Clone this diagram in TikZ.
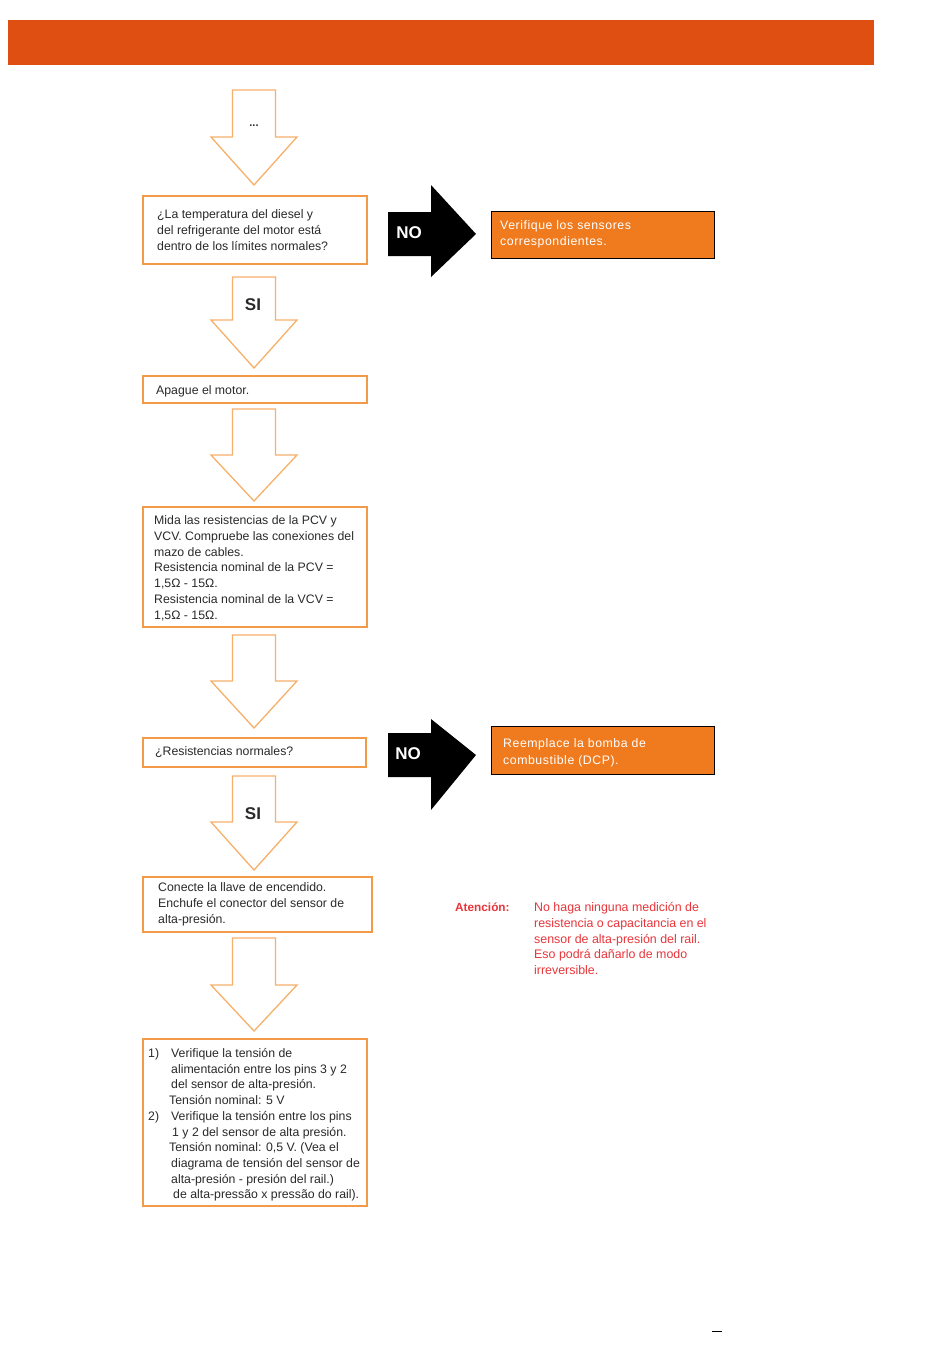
\documentclass[tikz,border=0pt]{standalone}
\usepackage{fontspec}
\setmainfont{Liberation Sans}
\newfontfamily\widefont[LetterSpace=4.5]{Liberation Sans}
\definecolor{hdr}{HTML}{DF4F12}
\definecolor{arrline}{HTML}{F6B06A}
\definecolor{boxline}{HTML}{F29A48}
\definecolor{obox}{HTML}{F07A1E}
\definecolor{txt}{HTML}{2A2A2A}
\definecolor{warn}{HTML}{E8353A}
\newcommand\mydarrow[4]{%
  \draw[arrowshape] ({#1-21.5},#2) -- ({#1+21.5},#2) -- ({#1+21.5},#3) -- ({#1+43},#3)
    -- (#1,#4) -- ({#1-43},#3) -- ({#1-21.5},#3) -- cycle;}
\newcommand\myrarrow[3]{%
  \fill[black] (388,{#1-22}) -- (431,{#1-22}) -- (431,#2) -- (476,#1) -- (431,#3)
    -- (431,{#1+22}) -- (388,{#1+22}) -- cycle;}
\begin{document}
\begin{tikzpicture}[x=1pt,y=-1pt,
  arrowshape/.style={draw=arrline,line width=1.3pt,fill=white,line join=miter},
  flowbox/.style={draw=boxline,line width=1.5pt,fill=white,rectangle,inner sep=0pt},
  btext/.style={font=\fontsize{12.3}{15.8}\selectfont,text=txt,align=left,inner sep=0pt,anchor=base west},
  obx/.style={draw=black,line width=0.8pt,fill=obox,rectangle,minimum width=223pt,inner sep=0pt},
  otext/.style={font=\widefont\fontsize{12.3}{16.5}\selectfont,text=white,align=left,inner sep=0pt,anchor=base west},
  lbl/.style={font=\bfseries\fontsize{17}{17}\selectfont},
  wtxt/.style={font=\fontsize{12.4}{15.8}\selectfont,text=warn,align=left,inner sep=0pt,anchor=base west}
]
\useasboundingbox (0,0) rectangle (950,1370);
\fill[white] (0,0) rectangle (950,1370);
% header
\fill[hdr] (8,20) rectangle (874,65);
% down arrows
\mydarrow{254}{90}{137}{185}
\node[font=\bfseries\fontsize{11}{11}\selectfont,text=txt] (dots) at (254,126) {...};
\mydarrow{254}{277}{320}{368}
\node[lbl,text=txt] (si1) at (253,305) {SI};
\mydarrow{254}{409}{455}{501}
\mydarrow{254}{635}{681}{728}
\mydarrow{254}{776}{822}{870}
\node[lbl,text=txt] (si2) at (253,814) {SI};
\mydarrow{254}{938}{985}{1031}
% boxes (text nodes anchored at the baseline of their last line)
\node[flowbox,minimum width=224pt,minimum height=68pt] (b1) at (255,230) {};
\node[btext] (b1t) at (157,250.1)
  {¿La temperatura del diesel y\\del refrigerante del motor está\\dentro de los límites normales?};
\node[flowbox,minimum width=224pt,minimum height=27pt] (b2) at (255,389.5) {};
\node[btext] (b2t) at (156,394.5) {Apague el motor.};
\node[flowbox,minimum width=224pt,minimum height=120pt] (b3) at (255,567) {};
\node[btext] (b3t) at (154,619.3)
  {Mida las resistencias de la PCV y\\VCV. Compruebe las conexiones del\\mazo de cables.\\Resistencia nominal de la PCV =\\1,5Ω - 15Ω.\\Resistencia nominal de la VCV =\\1,5Ω - 15Ω.};
\node[flowbox,minimum width=223pt,minimum height=29pt] (b4) at (254.5,752.5) {};
\node[btext] (b4t) at (155,755.5) {¿Resistencias normales?};
\node[flowbox,minimum width=229pt,minimum height=55pt] (b5) at (257.5,904.5) {};
\node[btext] (b5t) at (158,923.1)
  {Conecte la llave de encendido.\\Enchufe el conector del sensor de\\alta-presión.};
\node[flowbox,minimum width=224pt,minimum height=167pt] (b6) at (255,1122.5) {};
\node[btext,font=\fontsize{12.3}{15.7}\selectfont] (b6t) at (148,1198.8)
  {\makebox[23pt][l]{1)}Verifique la tensión de\\\hspace*{23pt}alimentación entre los pins 3 y 2\\\hspace*{23pt}del sensor de alta-presión.\\\hspace*{21pt}Tensión nominal: 5 V\\\makebox[23pt][l]{2)}Verifique la tensión entre los pins\\\hspace*{24pt}1 y 2 del sensor de alta presión.\\\hspace*{21pt}Tensión nominal: 0,5 V. (Vea el\\\hspace*{23pt}diagrama de tensión del sensor de\\\hspace*{23pt}alta-presión - presión del rail.)\\\hspace*{25pt}de alta-pressão x pressão do rail).};
% NO arrows
\myrarrow{234}{185}{277}
\node[lbl,text=white] (no1) at (409,233) {NO};
\myrarrow{755}{719}{810}
\node[lbl,text=white] (no2) at (408,754) {NO};
% orange boxes
\node[obx,minimum height=47pt] (o1) at (602.5,234.5) {};
\node[otext] (o1t) at (500,245.8) {Verifique los sensores\\correspondientes.};
\node[obx,minimum height=48pt] (o2) at (602.5,750) {};
\node[otext] (o2t) at (503,764.2) {Reemplace la bomba de\\combustible (DCP).};
% warning
\node[wtxt,font=\bfseries\fontsize{11.8}{15.8}\selectfont] (att) at (455,911.5) {Atención:};
\node[wtxt] (attt) at (534,974.7)
  {No haga ninguna medición de\\resistencia o capacitancia en el\\sensor de alta-presión del rail.\\Eso podrá dañarlo de modo\\irreversible.};
% small mark
\draw[black,line width=1pt] (712,1331) -- (722,1331);
\end{tikzpicture}
\end{document}
